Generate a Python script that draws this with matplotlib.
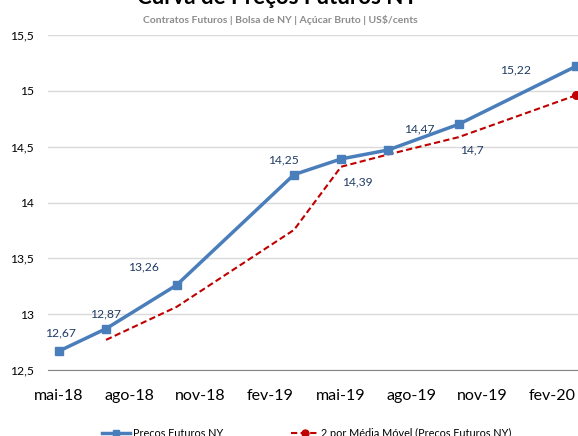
import matplotlib.pyplot as plt

plt.rcParams['font.family'] = ['Lato', 'DejaVu Sans']

# months since mai-18 (contract months: mar, mai, jul, out)
months = [0, 2, 5, 10, 12, 14, 17, 22]
precos = [12.67, 12.87, 13.26, 14.25, 14.39, 14.47, 14.70, 15.22]
mm_months = [2, 5, 10, 12, 14, 17, 22]
media_movel = [12.77, 13.065, 13.755, 14.32, 14.43, 14.585, 14.96]
tick_months = [0, 3, 6, 9, 12, 15, 18, 21]
tick_labels = ['mai-18', 'ago-18', 'nov-18', 'fev-19', 'mai-19', 'ago-19', 'nov-19', 'fev-20']
yticks = [12.5, 13, 13.5, 14, 14.5, 15, 15.5]

# label offsets in pixels (dx, dy)
label_off = [(1, 18), (-1, 15), (-33, 18), (-11, 15), (16, -23), (31, 21), (13, -26), (-60, -4)]

W, H = 578, 436
fig = plt.figure(figsize=(W / 100, H / 100), dpi=100)
ax = fig.add_axes([48 / W, 66 / H, 560 / W, 335 / H])

blue = '#4A7EBB'
red = '#C00000'

ax.plot(mm_months, media_movel, color=red, lw=1.5, ls=(0, (3, 1.6)), zorder=2)
ax.plot(mm_months[-1:], media_movel[-1:], 'o', color=red, ms=5.5, zorder=3, clip_on=False)
ax.plot(months, precos, color=blue, lw=2.5, marker='s', ms=5.5, zorder=4, clip_on=False)

for m, v, (dx, dy) in zip(months, precos, label_off):
    ax.annotate(f'{v:g}'.replace('.', ','), (m, v), xytext=(dx, dy), textcoords='offset pixels',
                ha='center', va='center', color='#1F3B64', fontsize=8.7)

ax.set_xlim(-0.47, (608 - 59) / 23.5)
ax.set_ylim(12.5, 15.5)
ax.set_yticks(yticks)
ax.set_yticklabels([f'{t:g}'.replace('.', ',') for t in yticks], fontsize=8.7)
ax.set_xticks(tick_months)
ax.set_xticklabels(tick_labels, fontsize=11.5)
ax.tick_params(axis='both', length=0)
ax.tick_params(axis='x', pad=14)
ax.tick_params(axis='y', pad=10)
ax.grid(axis='y', color='#D9D9D9', lw=1)
ax.set_axisbelow(True)
for s in ['top', 'right', 'left']:
    ax.spines[s].set_visible(False)
ax.spines['bottom'].set_color('#868686')

fig.text(277 / W, 1 - (-3) / H, 'Curva de Preços Futuros NY', ha='center', va='center',
         fontsize=16, fontweight='bold')
fig.text(280 / W, 1 - 20 / H, 'Contratos Futuros | Bolsa de NY | Açúcar Bruto | US$/cents',
         ha='center', va='center', fontsize=7.5, fontweight='bold', color='#8C8C8C')

h1, = ax.plot([], [], color=blue, lw=2.5, marker='s', ms=5)
h2, = ax.plot([], [], color=red, lw=1.5, ls=(0, (3, 1.6)), marker='o', ms=5, markevery=[1])
fig.legend([h1, h2], ['Preços Futuros NY', '2 por Média Móvel (Preços Futuros NY)'],
           loc='center', bbox_to_anchor=(307 / W, 1 - 433 / H), ncol=2, frameon=False,
           fontsize=7.8, handlelength=2.6, handletextpad=0.2, columnspacing=6.3)

fig.savefig('out.png', dpi=100)
